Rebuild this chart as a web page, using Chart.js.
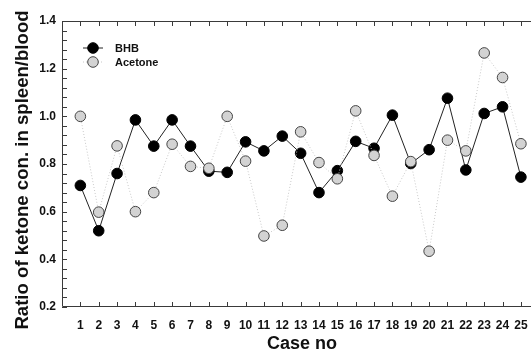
<!DOCTYPE html>
<html>
<head>
<meta charset="utf-8">
<script src="https://cdn.jsdelivr.net/npm/chart.js@4.4.1/dist/chart.umd.min.js"></script>
<style>
  html, body { margin: 0; padding: 0; background: #fff; }
  #wrap { width: 531px; height: 356px; }
</style>
</head>
<body>
<div id="wrap"><canvas id="chart" width="531" height="356"></canvas></div>
<script>
const cases = [1,2,3,4,5,6,7,8,9,10,11,12,13,14,15,16,17,18,19,20,21,22,23,24,25];
const bhb = [0.71,0.52,0.76,0.985,0.875,0.985,0.875,0.77,0.765,0.893,0.855,0.917,0.845,0.68,0.772,0.895,0.866,1.005,0.802,0.86,1.076,0.775,1.012,1.04,0.745];
const acetone = [1.0,0.598,0.876,0.6,0.68,0.883,0.79,0.782,1.0,0.812,0.498,0.543,0.935,0.806,0.738,1.023,0.836,0.665,0.81,0.434,0.9,0.855,1.266,1.163,0.885];
const yTicks = [0.2,0.4,0.6,0.8,1.0,1.2,1.4];

const FONT = 'Arial, "Liberation Sans", Helvetica, sans-serif';
const AXIS = '#3a3a3a';

// strip the automatic label padding so the plot area stays where we put it
const noPad = s => { s.paddingLeft = s.paddingRight = s.paddingTop = s.paddingBottom = 0; };

// axis frame with inward ticks, axis titles and legend
const framePlugin = {
  id: 'frame',
  afterDraw(chart) {
    const { ctx, chartArea: a, scales: { x, y } } = chart;
    ctx.save();
    ctx.strokeStyle = AXIS;
    ctx.lineWidth = 1;
    ctx.beginPath();
    ctx.moveTo(a.right, a.top + 0.5);
    ctx.lineTo(a.left + 0.5, a.top + 0.5);
    ctx.lineTo(a.left + 0.5, a.bottom - 0.5);
    ctx.lineTo(a.right, a.bottom - 0.5);
    for (let i = 1; i <= 25; i++) {
      const px = Math.round(x.getPixelForValue(i)) + 0.5;
      ctx.moveTo(px, a.bottom); ctx.lineTo(px, a.bottom - 5);
      ctx.moveTo(px, a.top); ctx.lineTo(px, a.top + 5);
    }
    for (let k = 0; k <= 30; k++) {
      const py = Math.round(y.getPixelForValue(0.2 + k * 0.04)) + 0.5;
      ctx.moveTo(a.left, py); ctx.lineTo(a.left + 5, py);
    }
    ctx.stroke();

    // titles
    ctx.fillStyle = '#111';
    ctx.textAlign = 'center';
    ctx.textBaseline = 'middle';
    ctx.font = 'bold 18px ' + FONT;
    ctx.fillText('Case no', 302, 344);
    ctx.save();
    ctx.translate(23, 170);
    ctx.rotate(-Math.PI / 2);
    ctx.font = 'bold 18.6px ' + FONT;
    ctx.fillText('Ratio of ketone con. in spleen/blood', 0, 0);
    ctx.restore();

    // legend
    const lx = 93, rows = [
      { label: 'BHB', y: 48, fill: '#000', stroke: '#000', line: '#222', dash: [] },
      { label: 'Acetone', y: 62, fill: '#d3d3d3', stroke: '#444', line: '#c8c8c8', dash: [1, 2] }
    ];
    rows.forEach(r => {
      ctx.strokeStyle = r.line;
      ctx.setLineDash(r.dash);
      ctx.beginPath();
      ctx.moveTo(lx - 10, r.y); ctx.lineTo(lx + 10, r.y);
      ctx.stroke();
      ctx.setLineDash([]);
      ctx.beginPath();
      ctx.arc(lx, r.y, 5.3, 0, Math.PI * 2);
      ctx.fillStyle = r.fill; ctx.fill();
      ctx.strokeStyle = r.stroke; ctx.stroke();
      ctx.fillStyle = '#111';
      ctx.font = 'bold 11px ' + FONT;
      ctx.textAlign = 'left';
      ctx.fillText(r.label, 115, r.y + 0.5);
    });
    ctx.restore();
  }
};

new Chart(document.getElementById('chart'), {
  type: 'line',
  data: {
    labels: cases,
    datasets: [
      {
        label: 'BHB',
        data: cases.map((c, i) => ({ x: c, y: bhb[i] })),
        borderColor: '#222',
        borderWidth: 1,
        backgroundColor: '#000',
        pointBackgroundColor: '#000',
        pointBorderColor: '#000',
        pointBorderWidth: 1,
        pointRadius: 5.3,
        tension: 0,
        clip: false,
        order: 2
      },
      {
        label: 'Acetone',
        data: cases.map((c, i) => ({ x: c, y: acetone[i] })),
        borderColor: '#c8c8c8',
        borderWidth: 1,
        borderDash: [1, 2],
        backgroundColor: '#d3d3d3',
        pointBackgroundColor: '#d3d3d3',
        pointBorderColor: '#444',
        pointBorderWidth: 1,
        pointRadius: 5.3,
        tension: 0,
        clip: false,
        order: 1
      }
    ]
  },
  options: {
    responsive: false,
    animation: false,
    devicePixelRatio: 1,
    layout: { autoPadding: false, padding: { top: 21, right: 0, left: 0, bottom: 0 } },
    plugins: { legend: { display: false }, tooltip: { enabled: false } },
    scales: {
      x: {
        type: 'linear',
        min: 0,
        max: 25.55,
        afterFit(s) { s.height = 49; noPad(s); },
        afterBuildTicks(s) { s.ticks = cases.map(v => ({ value: v })); },
        grid: { display: false, drawTicks: false },
        border: { display: false },
        ticks: {
          padding: 11,
          color: '#111',
          font: { family: FONT, size: 12, weight: 'bold' },
          maxRotation: 0,
          autoSkip: false
        }
      },
      y: {
        min: 0.2,
        max: 1.4,
        afterFit(s) { s.width = 62; noPad(s); },
        afterBuildTicks(s) { s.ticks = yTicks.map(v => ({ value: v })); },
        grid: { display: false, drawTicks: false },
        border: { display: false },
        ticks: {
          padding: 6,
          color: '#111',
          font: { family: FONT, size: 12, weight: 'bold' },
          callback: v => v.toFixed(1)
        }
      }
    }
  },
  plugins: [framePlugin]
});
</script>
</body>
</html>
